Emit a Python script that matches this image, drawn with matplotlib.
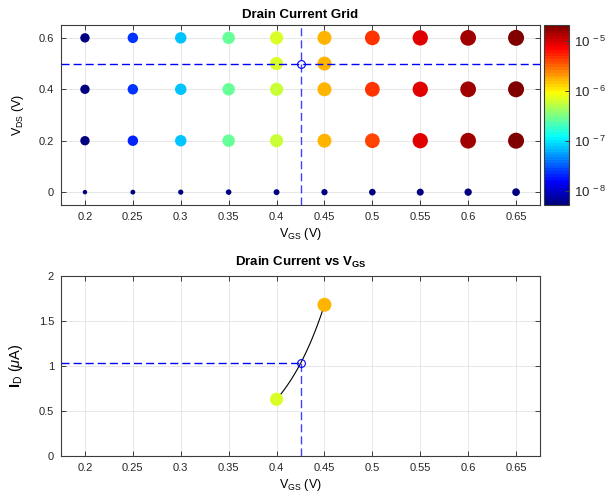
import numpy as np
import matplotlib
matplotlib.use('Agg')
import matplotlib.pyplot as plt
from matplotlib.colors import LogNorm, ListedColormap
from matplotlib.ticker import FuncFormatter

plt.rcParams['font.family'] = ['Liberation Sans', 'DejaVu Sans']
plt.rcParams['mathtext.fontset'] = 'custom'
plt.rcParams['mathtext.rm'] = 'Liberation Sans'
plt.rcParams['mathtext.it'] = 'Liberation Sans:italic'
plt.rcParams['mathtext.bf'] = 'Liberation Sans:bold'
plt.rcParams['lines.scale_dashes'] = False

# grid of bias points
vgs = [0.2, 0.25, 0.3, 0.35, 0.4, 0.45, 0.5, 0.55, 0.6, 0.65]
vds = [0.0, 0.2, 0.4, 0.6]

# drain current (A) for each VDS row
id_vds_0 = [0, 0, 0, 0, 0, 0, 0, 0, 0, 0]
id_vds_02 = [5.5e-9, 2.1e-8, 7.3e-8, 2.6e-7, 6.0e-7, 1.60e-6, 4.3e-6, 8.6e-6, 1.45e-5, 2.2e-5]
id_vds_04 = [5.6e-9, 2.15e-8, 7.5e-8, 2.65e-7, 6.2e-7, 1.65e-6, 4.5e-6, 8.9e-6, 1.50e-5, 2.25e-5]
id_vds_06 = [5.7e-9, 2.2e-8, 7.6e-8, 2.7e-7, 6.4e-7, 1.71e-6, 4.6e-6, 9.1e-6, 1.54e-5, 2.3e-5]

# neighbouring points at the operating VDS and the operating point
vgs_near = [0.4, 0.45]
id_near = [0.63e-6, 1.68e-6]
vgs_op = 0.425
vds_op = 0.5

# colour scale limits (A)
c_lo, c_hi = 10 ** -8.29, 10 ** -4.68

# MATLAB style jet, 64 levels
x = np.linspace(0, 1, 64)
r = np.clip(np.minimum(4 * x - 1.5, -4 * x + 4.5), 0, 1)
g = np.clip(np.minimum(4 * x - 0.5, -4 * x + 3.5), 0, 1)
b = np.clip(np.minimum(4 * x + 0.5, -4 * x + 2.5), 0, 1)
jet = ListedColormap(np.column_stack([r, g, b]))
norm = LogNorm(vmin=c_lo, vmax=c_hi)


def msize(cur):
    cur = np.maximum(np.asarray(cur, float), c_lo)
    frac = np.clip((np.log10(cur) - np.log10(c_lo)) / (np.log10(c_hi) - np.log10(c_lo)), 0, 1)
    d = 9.3 + 6.7 * frac
    return (d * 0.72) ** 2


def zero_size(v):
    d = 4.5 + 3.2 * (np.asarray(v) - 0.2) / 0.45
    return (d * 0.72) ** 2


fmt = FuncFormatter(lambda v, p: '%g' % round(v, 3))
frame = '#3c3c3c'
tick_col = '#262626'
line_blue = '#0000ff'
dash = (5.8, 2.9)


def style(ax):
    ax.set_xlim(0.175, 0.675)
    ax.set_xticks(vgs)
    ax.xaxis.set_major_formatter(fmt)
    ax.yaxis.set_major_formatter(fmt)
    ax.tick_params(direction='in', length=3.5, width=0.7, color=frame, labelcolor=tick_col,
                   labelsize=8, top=True, right=True, pad=5)
    ax.grid(True, color='#e3e3e3', lw=0.6)
    ax.set_axisbelow(True)
    for s in ax.spines.values():
        s.set_color(frame)
        s.set_linewidth(0.8)


fig = plt.figure(figsize=(6.13, 4.98), dpi=100)

# ---- top: grid of bias points
ax1 = fig.add_axes([61 / 613, 1 - 205 / 498, 479 / 613, 180 / 498])
style(ax1)
ax1.set_ylim(-0.05, 0.65)
ax1.set_yticks([0, 0.2, 0.4, 0.6])

ax1.scatter(vgs, [vds[0]] * len(vgs), c=np.maximum(id_vds_0, c_lo), cmap=jet, norm=norm,
            s=zero_size(vgs), edgecolors='none', zorder=3)
sc = None
for v, row in zip(vds[1:], [id_vds_02, id_vds_04, id_vds_06]):
    sc = ax1.scatter(vgs, [v] * len(vgs), c=row, cmap=jet, norm=norm, s=msize(row),
                     edgecolors='none', zorder=3)
ax1.scatter(vgs_near, [vds_op] * len(vgs_near), c=id_near, cmap=jet, norm=norm,
            s=msize(id_near), edgecolors='none', zorder=3)

ax1.axvline(vgs_op, color=line_blue, lw=1.0, dashes=dash, alpha=0.75, zorder=4)
ax1.axhline(vds_op, color=line_blue, lw=1.0, dashes=dash, zorder=4)
ax1.plot(vgs_op, vds_op, 'o', mfc='none', mec=line_blue, ms=5.6, mew=0.8, zorder=5)

ax1.set_title('Drain Current Grid', fontsize=9.5, fontweight='bold', pad=5)
ax1.set_xlabel(r'V$_{\mathrm{GS}}$ (V)', fontsize=9, labelpad=3)
ax1.set_ylabel(r'V$_{\mathrm{DS}}$ (V)', fontsize=9, labelpad=9)

cax = fig.add_axes([544 / 613, 1 - 205 / 498, 25 / 613, 180 / 498])
cb = fig.colorbar(sc, cax=cax)
cb.set_ticks([1e-8, 1e-7, 1e-6, 1e-5])
cb.minorticks_off()
cb.ax.yaxis.set_major_formatter(FuncFormatter(lambda v, p: r'$10^{\ %d}$' % round(np.log10(v))))
cax.tick_params(direction='in', length=3, width=0.7, color=frame, labelcolor=tick_col, labelsize=9.5)
cb.outline.set_edgecolor(frame)
cb.outline.set_linewidth(0.8)

# ---- bottom: current versus VGS at the operating VDS
ax2 = fig.add_axes([61 / 613, 1 - 456 / 498, 479 / 613, 180 / 498])
style(ax2)
ax2.set_ylim(0, 2)
ax2.set_yticks([0, 0.5, 1, 1.5, 2])

xs = np.linspace(vgs_near[0], vgs_near[1], 60)
ys = np.exp(np.interp(xs, vgs_near, np.log(id_near))) * 1e6
i_op = np.exp(np.interp(vgs_op, vgs_near, np.log(id_near))) * 1e6
ax2.plot(xs, ys, color='k', lw=0.8, zorder=3)
ax2.scatter(vgs_near, np.array(id_near) * 1e6, c=id_near, cmap=jet, norm=norm,
            s=msize(id_near), edgecolors='none', zorder=4)
ax2.plot([ax2.get_xlim()[0], vgs_op], [i_op, i_op], color=line_blue, lw=1.0, dashes=dash, zorder=4)
ax2.plot([vgs_op, vgs_op], [0, i_op], color=line_blue, lw=1.0, dashes=dash, alpha=0.75, zorder=4)
ax2.plot(vgs_op, i_op, 'o', mfc='none', mec=line_blue, ms=5.6, mew=0.8, zorder=5)

ax2.set_title(r'Drain Current vs V$_{\mathbf{GS}}$', fontsize=9.5, fontweight='bold', pad=7)
ax2.set_xlabel(r'V$_{\mathrm{GS}}$ (V)', fontsize=9, labelpad=3)
ax2.set_ylabel(r'$\mathbf{I}_{\mathrm{D}}$ ($\mu$A)', fontsize=10.5, labelpad=10)

fig.savefig('out.png', dpi=100, facecolor='white')
